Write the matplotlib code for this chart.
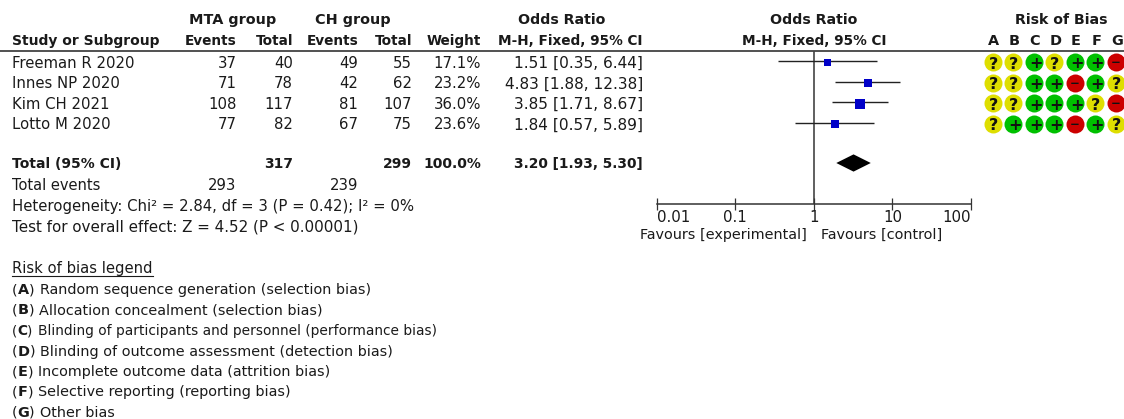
import matplotlib
matplotlib.use("Agg")
import matplotlib.pyplot as plt
from matplotlib.transforms import offset_copy

# ---- data ----
studies = ["Freeman R 2020", "Innes NP 2020", "Kim CH 2021", "Lotto M 2020"]
mta_events = [37, 71, 108, 77]
mta_total = [40, 78, 117, 82]
ch_events = [49, 42, 81, 67]
ch_total = [55, 62, 107, 75]
weights = [17.1, 23.2, 36.0, 23.6]
odds = [1.51, 4.83, 3.85, 1.84]
ci_low = [0.35, 1.88, 1.71, 0.57]
ci_high = [6.44, 12.38, 8.67, 5.89]
total_or = 3.20
total_low = 1.93
total_high = 5.30
ticks = [0.01, 0.1, 1, 10, 100]
tick_labels = ["0.01", "0.1", "1", "10", "100"]
rob_cols = ["A", "B", "C", "D", "E", "F", "G"]
rob = ["??+?++-", "??++-+?", "??+++?-", "?+++-+?"]
legend_items = [
    ("A", "Random sequence generation (selection bias)"),
    ("B", "Allocation concealment (selection bias)"),
    ("C", "Blinding of participants and personnel (performance bias)"),
    ("D", "Blinding of outcome assessment (detection bias)"),
    ("E", "Incomplete outcome data (attrition bias)"),
    ("F", "Selective reporting (reporting bias)"),
    ("G", "Other bias"),
]

W, H = 1124, 419
plt.rcParams["font.family"] = "DejaVu Sans"
FS = 10.7
FB = 10.0
FL = 10.4
INK = "#1a1a1a"
fig = plt.figure(figsize=(W / 100, H / 100), dpi=100)
renderer = fig.canvas.get_renderer()

def axes_px(x0, x1, y0, y1):
    return fig.add_axes([x0 / W, 1 - y1 / H, (x1 - x0) / W, (y1 - y0) / H])

# page overlay in pixel coordinates for the table text
page = axes_px(0, W, 0, H)
page.set_xlim(0, W)
page.set_ylim(H, 0)
page.axis("off")

def T(x, y, s, ha="right", bold=False, size=None):
    if size is None:
        size = FB if bold else FS
    return page.text(x, y - 0.7, s, ha=ha, va="baseline", fontsize=size, color=INK,
                     fontweight="bold" if bold else "normal")

# headers
T(233, 25, "MTA group", "center", True, 10.4)
T(352.5, 25, "CH group", "center", True, 10.4)
T(562, 25, "Odds Ratio", "center", True, 10.2)
T(814, 25, "Odds Ratio", "center", True, 10.2)
T(1061, 25, "Risk of Bias", "center", True, 10.2)
T(12, 45.3, "Study or Subgroup", "left", True)
COLX = [236.5, 293, 358, 412, 481, 643]
for x, s in zip(COLX, ["Events", "Total", "Events", "Total", "Weight", "M-H, Fixed, 95% CI"]):
    T(x, 45.3, s, "right", True, 9.8)
T(814, 45.3, "M-H, Fixed, 95% CI", "center", True, 9.8)
page.plot([0, W], [51, 51], color="#222222", lw=1.1)

# study rows
row_base = [68.3, 89, 109.7, 130]
for i, yb in enumerate(row_base):
    T(12, yb, studies[i], "left")
    T(COLX[0], yb, str(mta_events[i]))
    T(COLX[1], yb, str(mta_total[i]))
    T(COLX[2], yb, str(ch_events[i]))
    T(COLX[3], yb, str(ch_total[i]))
    T(COLX[4], yb, f"{weights[i]:.1f}%")
    T(COLX[5], yb, f"{odds[i]:.2f} [{ci_low[i]:.2f}, {ci_high[i]:.2f}]", size=11.1)

# totals
T(12, 168.3, "Total (95% CI)", "left", True)
T(COLX[1], 168.3, str(sum(mta_total)), "right", True)
T(COLX[3], 168.3, str(sum(ch_total)), "right", True)
T(COLX[4], 168.3, "100.0%", "right", True)
T(COLX[5], 168.3, f"{total_or:.2f} [{total_low:.2f}, {total_high:.2f}]", "right", True, 9.9)
T(12, 191, "Total events", "left", False, 10.5)
T(COLX[0], 191, str(sum(mta_events)))
T(COLX[2], 191, str(sum(ch_events)))
T(12, 211.7, "Heterogeneity: Chi² = 2.84, df = 3 (P = 0.42); I² = 0%", "left", False, 10.75)
T(12, 232.3, "Test for overall effect: Z = 4.52 (P < 0.00001)", "left", False, 10.9)

# favours
T(807, 239.6, "Favours [experimental]", "right", False, 10.4)
T(821, 239.6, "Favours [control]", "left", False, 10.4)

# legend
T(12, 274, "Risk of bias legend", "left", False, 10.6)
page.plot([12, 153], [275.5, 275.5], color=INK, lw=0.8)
for yb, (k, s) in zip([294.7, 315, 335.7, 356.4, 376.7, 397, 417.4], legend_items):
    size = 9.9 if k == "C" else FL
    x = 12.0
    for piece, heavy in (("(", False), (k, True), (") ", False)):
        t = T(x, yb, piece, "left", heavy, size)
        x += t.get_window_extent(renderer).width
    x += 0.5
    T(x, yb, s, "left", False, size)

# forest plot on a log scale; row r sits at 61.5 + 20.5 r pixels
forest = axes_px(656.7, 971, 51, 203.7)
forest.set_xscale("log")
forest.set_xlim(0.01, 100)
forest.set_ylim((203.7 - 61.5) / 20.5, (51 - 61.5) / 20.5)
forest.patch.set_alpha(0)
for s in ("top", "left", "right"):
    forest.spines[s].set_visible(False)
forest.spines["bottom"].set_color("#333333")
forest.spines["bottom"].set_linewidth(1.1)
forest.set_yticks([])
forest.minorticks_off()
forest.set_xticks(ticks)
forest.set_xticklabels(tick_labels, fontsize=10.8, color=INK)
forest.tick_params(axis="x", which="major", direction="inout", length=8,
                   width=0.9, color="#333333", pad=0.2)
forest.tick_params(axis="x", which="minor", length=0)
for lab, ha in zip(forest.get_xticklabels(), ["left", "center", "center", "center", "right"]):
    lab.set_ha(ha)
forest.axvline(1, color="#444444", lw=1.2, zorder=1)
rows = list(range(len(studies)))
forest.hlines(rows, ci_low, ci_high, color="#222222", lw=1.0, zorder=2)
sq_tr = offset_copy(forest.transData, fig=fig, x=0, y=-0.9, units="points")
forest.scatter(odds, rows, marker="s", s=[w * 1.45 for w in weights], color="#0000c8",
               linewidths=0, zorder=3, transform=sq_tr)
dy = 0.42
total_row = (163 - 61.5) / 20.5
forest.fill([total_low, total_or, total_high, total_or],
            [total_row, total_row - dy, total_row, total_row + dy],
            color="black", lw=0, zorder=3)

# risk of bias grid
rb = axes_px(982.45, 1125.95, 51.7, 154)
rb.set_xlim(-0.5, 6.5)
rb.set_ylim(4.46, -0.5)
rb.axis("off")
COL = {"?": "#dede00", "+": "#00c000", "-": "#cc0000"}
SYM = {"?": "?", "+": "+", "-": "\u2212"}
NUDGE = {"?": (0.03, 0.1), "+": (0.09, 0.09), "-": (0.0, 0.03)}
for r, line in enumerate(rob):
    for c, v in enumerate(line):
        rb.scatter([c], [r], s=168, color=COL[v], linewidths=0, zorder=2, clip_on=False)
        nx, ny = NUDGE[v]
        rb.text(c + nx, r + ny, SYM[v],
                ha="center", va="center", fontsize=11.5 if v != "-" else 8.5,
                fontweight="bold", color="#111111", zorder=3)
for c, k in enumerate(rob_cols):
    px = 992.7 + 20.5 * c
    T(px + 1, 45.3, k, "center", True, 10.4)

fig.savefig("out.png", dpi=100)
